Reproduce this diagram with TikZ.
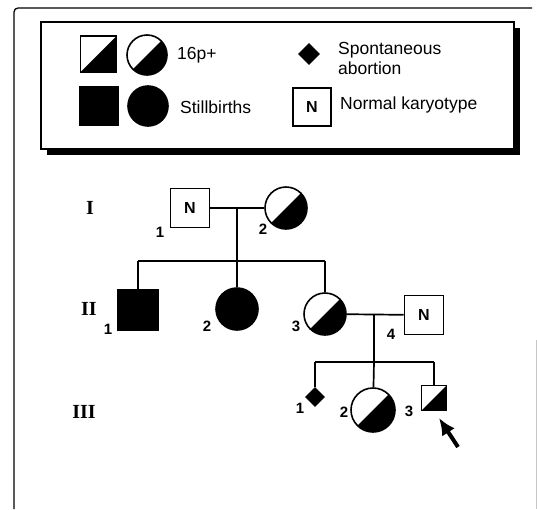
\documentclass[tikz,border=0pt]{standalone}
\usepackage{fontspec}
\setmainfont{Liberation Sans}
\newfontfamily\romfont{Liberation Serif}
\usetikzlibrary{arrows.meta,shapes.geometric}
\begin{document}
\begin{tikzpicture}[x=1pt,y=-1pt,
  conn/.style={line width=1.7pt},
  male/.style={draw, line width=1.6pt, rectangle, inner sep=0pt, minimum size=#1, font=\fontsize{16}{16}\bfseries\selectfont},
  female/.style={draw, line width=1.6pt, circle, inner sep=0pt, minimum size=#1},
  half/.style={path picture={\fill (path picture bounding box.south west) -- (path picture bounding box.south east) -- (path picture bounding box.north east) -- cycle;}},
  full/.style={fill=black},
  abort/.style={diamond, fill=black, draw, line width=0.8pt, inner sep=0pt, minimum width=#1, minimum height=#1},
  num/.style={font=\fontsize{15}{15}\bfseries\selectfont, inner sep=0pt},
  gen/.style={font=\romfont\fontsize{20}{20}\bfseries\selectfont, inner sep=0pt},
  legtext/.style={font=\fontsize{17.5}{20}\selectfont, align=left, anchor=west, inner sep=0pt}
]
\useasboundingbox (0,0) rectangle (537,509);
% outer frame
\draw[line width=1.3pt, rounded corners=4pt] (14,509) -- (14,8) -- (532,8);
\draw[gray!45, line width=1pt] (536,340) -- (536,509);
% legend box with shadow
\fill (47,28) rectangle (520,155);
\draw[fill=white, line width=1.6pt] (41,22) rectangle (514,149);
\node[male=36pt, half] (L1) at (98.5,54) {};
\node[female=40pt, half] (L2) at (147,55) {};
\node[legtext] (L2t) at (177,55) {16p+};
\node[male=38pt, full] (L3) at (99,106) {};
\node[female=40pt, full] (L4) at (148,106) {};
\node[legtext] (L4t) at (180,107) {Stillbirths};
\node[abort=21pt] (L5) at (309,54) {};
\node[legtext] (L5t) at (338,58) {Spontaneous\\abortion};
\node[male=38pt] (L6) at (312,107) {N};
\node[legtext] (L6t) at (340,105) {Normal karyotype};
% generation labels
\node[gen] (gI) at (90,208) {I};
\node[gen] (gII) at (89,309) {II};
\node[gen] (gIII) at (84,412) {III};
% generation I
\node[male=39pt] (I1) at (190,208) {N};
\node[female=42pt, half] (I2) at (286,208) {};
\node[num] (nI1) at (160,232) {1};
\node[num] (nI2) at (263,229) {2};
% generation II
\node[male=41pt, full] (II1) at (138,310) {};
\node[female=42pt, full] (II2) at (237,309) {};
\node[female=42pt, half] (II3) at (325,314) {};
\node[male=39pt] (II4) at (424,315) {N};
\node[num] (nII1) at (108,329) {1};
\node[num] (nII2) at (207,326) {2};
\node[num] (nII3) at (296,326) {3};
\node[num] (nII4) at (391,334) {4};
% generation III
\node[abort=19pt] (III1) at (315,397) {};
\node[female=44pt, half] (III2) at (373,410) {};
\node[male=25pt, half] (III3) at (434,398) {};
\node[num] (nIII1) at (300,408) {1};
\node[num] (nIII2) at (344,412) {2};
\node[num] (nIII3) at (409,411) {3};
% connectors
\coordinate (m1) at (237,208);
\coordinate (s1) at (237,261);
\coordinate (s1L) at (138,261);
\coordinate (s1R) at (325,261);
\draw[conn] (I1) -- (I2);
\draw[conn] (m1) -- (s1);
\draw[conn] (s1L) -- (s1R);
\draw[conn] (s1L) -- (II1);
\draw[conn] (s1) -- (II2);
\draw[conn] (s1R) -- (II3);
\coordinate (m2) at (374,315);
\coordinate (s2) at (374,362);
\coordinate (s2L) at (315,362);
\coordinate (s2R) at (434,362);
\draw[conn] (II3) -- (II4);
\draw[conn] (m2) -- (s2);
\draw[conn] (s2L) -- (s2R);
\draw[conn] (s2L) -- (III1);
\draw[conn] (s2) -- (III2);
\draw[conn] (s2R) -- (III3);
% proband arrow
\coordinate (atail) at (458,447);
\coordinate (atip) at (439,418);
\draw[line width=4pt, -{Latex[length=17pt,width=15pt]}] (atail) -- (atip);
\end{tikzpicture}
\end{document}
